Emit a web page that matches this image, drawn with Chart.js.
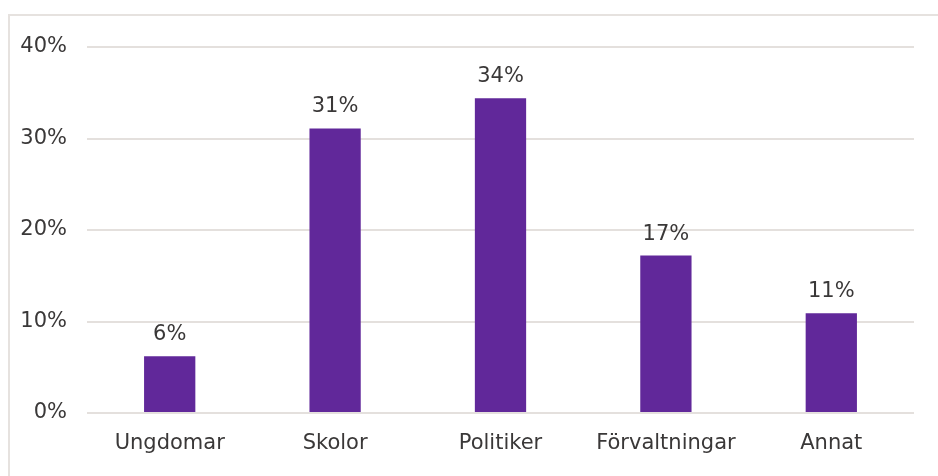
<!DOCTYPE html>
<html>
<head>
<meta charset="utf-8">
<script src="https://cdn.jsdelivr.net/npm/chart.js@4/dist/chart.umd.min.js"></script>
<style>
  html, body { margin: 0; padding: 0; background: #fff; }
  #wrap { position: relative; width: 938px; height: 476px; }
  #frame {
    position: absolute; left: 8px; top: 14px; right: 0; bottom: -4px;
    border-left: 2px solid #e6e2df; border-top: 2px solid #e6e2df;
  }
  canvas { position: absolute; left: 0; top: 0; }
</style>
</head>
<body>
<div id="wrap">
  <div id="frame"></div>
  <canvas id="c" width="938" height="476"></canvas>
</div>
<script>
// ── data ────────────────────────────────────────────────────────────
const KATEGORIER = ["Ungdomar", "Skolor", "Politiker", "Förvaltningar", "Annat"];
const ANDEL = [6.2, 31.1, 34.4, 17.2, 10.9];
const ETIKETTER = ["6%", "31%", "34%", "17%", "11%"];
const Y_TICKS = [0, 10, 20, 30, 40];

const BAR_COL = "#61289a";
const GRID_COL = "#e4e0dd";
const TEXT_COL = "#3a3838";
const FONT = "'DejaVu Sans', Verdana, sans-serif";

// value labels above bars
const barLabels = {
  id: "barLabels",
  afterDatasetsDraw(chart) {
    const ctx = chart.ctx;
    const meta = chart.getDatasetMeta(0);
    ctx.save();
    ctx.font = `21px ${FONT}`;
    ctx.fillStyle = TEXT_COL;
    ctx.textAlign = "center";
    ctx.textBaseline = "alphabetic";
    meta.data.forEach((bar, i) => {
      ctx.fillText(ETIKETTER[i], bar.x, bar.y - 16);
    });
    ctx.restore();
  },
};

new Chart(document.getElementById("c"), {
  type: "bar",
  data: {
    labels: KATEGORIER,
    datasets: [
      {
        data: ANDEL,
        backgroundColor: BAR_COL,
        borderWidth: 0,
        categoryPercentage: 1,
        barPercentage: 0.31,
      },
    ],
  },
  options: {
    responsive: false,
    animation: false,
    layout: { padding: { top: 47, right: 24, bottom: 0, left: 0 } },
    plugins: { legend: { display: false }, tooltip: { enabled: false } },
    scales: {
      x: {
        grid: { display: false },
        border: { display: false },
        ticks: { color: TEXT_COL, font: { family: FONT, size: 21 }, padding: 10 },
        afterFit(s) { s.height = 63; },
      },
      y: {
        min: 0,
        max: 40,
        afterBuildTicks(s) { s.ticks = Y_TICKS.map((v) => ({ value: v })); },
        grid: { color: GRID_COL, lineWidth: 2, drawTicks: false },
        border: { display: false },
        ticks: {
          color: TEXT_COL,
          font: { family: FONT, size: 21 },
          padding: 20,
          callback: (v) => v + "%",
        },
        afterFit(s) { s.width = 87; },
      },
    },
  },
  plugins: [barLabels],
});
</script>
</body>
</html>
